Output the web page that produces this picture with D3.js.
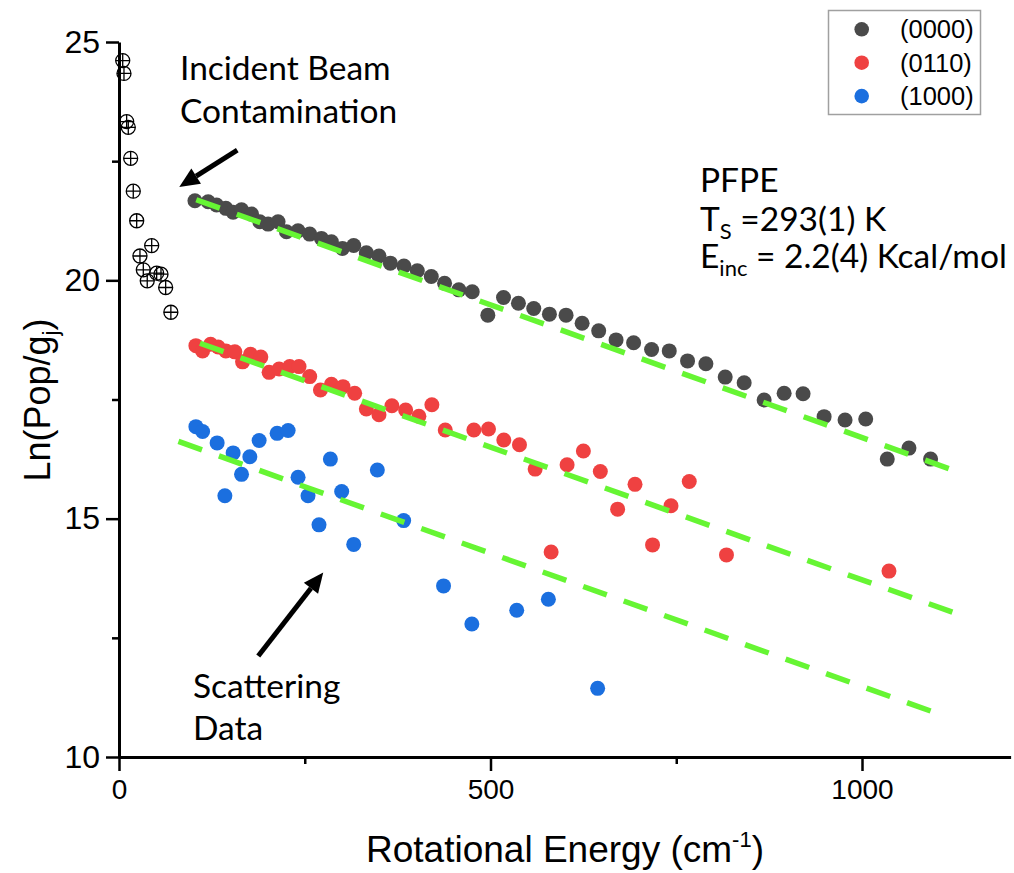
<!DOCTYPE html>
<html><head><meta charset="utf-8">
<script src="https://cdn.jsdelivr.net/npm/d3@7"></script>
<style>
html,body{margin:0;padding:0;background:#fff;}
svg{display:block;}
</style>
</head><body>
<svg id="chart" width="1014" height="873"></svg>
<script>
// ---------- data ----------
const contamE  = [5, 6.7, 10.3, 12.5, 15.7, 19.2, 23.8, 28.2, 32.7, 38, 44, 50.7, 56.5, 62.8, 69.8];
const contamLn = [24.61, 24.34, 23.33, 23.21, 22.56, 21.87, 21.25, 20.51, 20.22, 19.99, 20.73, 20.15, 20.13, 19.85, 19.33];

const e0000  = [102.2,120,131.3,143.8,153.6,164.9,178.4,189.5,200.7,214.1,225.4,241,256.7,272.4,285.9,300.7,315.9,332.9,349.9,365.2,383.5,401.5,420.3,438.2,457.4,475.4,496.4,517.5,537.6,558.2,579.3,601.7,623.3,645.6,669,692.6,716.8,740.6,765.2,789.9,815.9,841.4,868.3,895.2,920.7,949,977.2,1005,1034,1063.2,1092.3];
const ln0000 = [21.67,21.65,21.58,21.51,21.43,21.48,21.39,21.23,21.18,21.23,21.02,21.04,20.97,20.88,20.81,20.67,20.73,20.58,20.51,20.36,20.30,20.20,20.08,19.94,19.80,19.76,19.27,19.64,19.52,19.41,19.29,19.27,19.10,18.94,18.75,18.69,18.55,18.52,18.31,18.25,17.97,17.85,17.49,17.63,17.62,17.14,17.07,17.09,16.25,16.48,16.25];

const e0110  = [103.5,112.5,123.3,133.5,143.8,155.9,166.3,177,190.9,202,215.5,229.8,242.3,256.7,271.1,285.9,301.5,317.2,332.9,349.9,367.3,385.8,403.6,421.1,439.1,477.6,497.3,517.9,539,560.1,581.6,603.1,625,647.8,671.1,694.5,718.1,742.9,767.5,817.6,1036.3];
const ln0110 = [18.63,18.52,18.66,18.60,18.52,18.50,18.29,18.45,18.39,18.07,18.14,18.19,18.19,17.98,17.70,17.82,17.77,17.63,17.30,17.18,17.37,17.28,17.15,17.39,16.86,16.86,16.88,16.65,16.55,16.04,14.30,16.13,16.42,15.99,15.20,15.72,14.45,15.27,15.78,14.24,13.90];

const e1000  = [103.5,112.5,132.1,142.5,153.6,164.9,176.1,188.6,212.8,227.6,241,254.4,269.2,284.5,299.7,315.9,347.7,383.1,436.8,474.9,535.3,577.9,644.2];
const ln1000 = [16.93,16.83,16.59,15.48,16.38,15.93,16.30,16.64,16.79,16.85,15.87,15.48,14.87,16.25,15.57,14.46,16.02,14.96,13.59,12.79,13.08,13.31,11.44];

// linear fits (end points of dashed lines)
const fitE0000 = [104, 1117], fitLn0000 = [21.69, 16.05];
const fitE0110 = [109, 1125], fitLn0110 = [18.68, 13.02];
const fitE1000 = [80, 1095],  fitLn1000 = [16.62, 10.95];

const seriesNames  = ["(0000)", "(0110)", "(1000)"];
const seriesColors = ["#4a4a4a", "#ef4141", "#1b6fdf"];
const fitColor = "#66f533";

const xMajorTicks = [0, 500, 1000];
const xMinorTicks = [250, 750];
const yMajorTicks = [10, 15, 20, 25];
const yMinorTicks = [12.5, 17.5, 22.5];

// ---------- scales ----------
const svg = d3.select("#chart");
const x = d3.scaleLinear().domain([0, 1200]).range([119, 1010.6]);
const y = d3.scaleLinear().domain([10, 25]).range([757, 42]);

const zip = (a, b) => a.map((v, i) => [v, b[i]]);

// ---------- scatter ----------
const sets = [zip(e0000, ln0000), zip(e0110, ln0110), zip(e1000, ln1000)];
sets.forEach((pts, i) => {
  svg.append("g").selectAll("circle").data(pts).join("circle")
    .attr("cx", d => x(d[0])).attr("cy", d => y(d[1])).attr("r", 7.5)
    .attr("fill", seriesColors[i]);
});

// ---------- fit lines ----------
const line = d3.line().x(d => x(d[0])).y(d => y(d[1]));
[zip(fitE0000, fitLn0000), zip(fitE0110, fitLn0110), zip(fitE1000, fitLn1000)].forEach(f => {
  svg.append("path").attr("d", line(f)).attr("fill", "none")
    .attr("stroke", fitColor).attr("stroke-width", 5.5).attr("stroke-dasharray", "25,18");
});

// ---------- axes ----------
const axisFont = "'Liberation Sans', Arial, sans-serif";
const gx = svg.append("g").attr("transform", `translate(0,${y(10)})`)
  .call(d3.axisBottom(x).tickValues(xMajorTicks).tickSize(14).tickSizeOuter(0).tickPadding(8).tickFormat(d3.format("d")));
svg.append("g").attr("transform", `translate(0,${y(10)})`)
  .call(d3.axisBottom(x).tickValues(xMinorTicks).tickSize(7).tickFormat(""))
  .select(".domain").remove();
const gy = svg.append("g").attr("transform", `translate(${x(0)},0)`)
  .call(d3.axisLeft(y).tickValues(yMajorTicks).tickSize(13).tickSizeOuter(0).tickPadding(6).tickFormat(d3.format("d")));
svg.append("g").attr("transform", `translate(${x(0)},0)`)
  .call(d3.axisLeft(y).tickValues(yMinorTicks).tickSize(7).tickFormat(""))
  .select(".domain").remove();

svg.selectAll(".domain").attr("stroke", "#000").attr("stroke-width", 3);
svg.selectAll(".tick line").attr("stroke", "#000").attr("stroke-width", 2.5);
gx.selectAll(".tick text").attr("font-family", axisFont).attr("font-size", 28).attr("fill", "#000");
gy.selectAll(".tick text").attr("font-family", axisFont).attr("font-size", 32).attr("fill", "#000");

// contamination markers (drawn over axis)
const cg = svg.append("g").selectAll("g").data(zip(contamE, contamLn)).join("g")
  .attr("transform", d => `translate(${x(d[0])},${y(d[1])})`);
cg.append("circle").attr("r", 7).attr("fill", "none").attr("stroke", "#000").attr("stroke-width", 1.3);
cg.append("path").attr("d", "M-7,0H7M0,-7V7").attr("stroke", "#000").attr("stroke-width", 1.3);

// axis titles
svg.append("text").attr("x", 565).attr("y", 862).attr("text-anchor", "middle")
  .attr("font-family", axisFont).attr("font-size", 37).attr("fill", "#000")
  .html('Rotational Energy (cm<tspan dy="-15" font-size="22">-1</tspan><tspan dy="15">)</tspan>');
svg.append("text").attr("transform", "translate(50,400) rotate(-90)").attr("text-anchor", "middle")
  .attr("font-family", axisFont).attr("font-size", 36).attr("fill", "#000")
  .html('Ln(Pop/g<tspan dy="8" font-size="22">j</tspan><tspan dy="-8">)</tspan>');

// ---------- legend ----------
const lg = svg.append("g");
lg.append("rect").attr("x", 828.5).attr("y", 10.5).attr("width", 152).attr("height", 104)
  .attr("fill", "#fff").attr("stroke", "#a0a0a0").attr("stroke-width", 1.5);
seriesNames.forEach((n, i) => {
  const cy = 29.3 + i * 33.4;
  lg.append("circle").attr("cx", 861.7).attr("cy", cy).attr("r", 7.3).attr("fill", seriesColors[i]);
  lg.append("text").attr("x", 900).attr("y", cy + 9).attr("font-family", axisFont)
    .attr("font-size", 25.5).attr("fill", "#000").text(n);
});

// ---------- annotations ----------
const annFont = "Lato, 'Open Sans', sans-serif";
function txt(xp, yp, s, size) {
  return svg.append("text").attr("x", xp).attr("y", yp).attr("font-family", annFont)
    .attr("font-size", size).attr("fill", "#000").html(s);
}
txt(180, 80, "Incident Beam", 33.5);
txt(180, 122.7, "Contamination", 33.5);
txt(193, 697.7, "Scattering", 33.5);
txt(193, 740, "Data", 33.5);
txt(700, 191.7, "PFPE", 33.5);
txt(700, 230.7, 'T<tspan dy="8" font-size="22">S</tspan><tspan dy="-8"> =293(1) K</tspan>', 33.5);
txt(700, 268.3, 'E<tspan dy="8" font-size="22">inc</tspan><tspan dy="-8"> = 2.2(4) Kcal/mol</tspan>', 33.5);

function arrow(e0, l0, e1, l1) {
  const x0 = x(e0), y0 = y(l0), x1 = x(e1), y1 = y(l1);
  const ang = Math.atan2(y1 - y0, x1 - x0);
  const hl = 20, hw = 9;
  const bx = x1 - hl * Math.cos(ang), by = y1 - hl * Math.sin(ang);
  svg.append("line").attr("x1", x0).attr("y1", y0).attr("x2", bx).attr("y2", by)
    .attr("stroke", "#000").attr("stroke-width", 5);
  const px = -Math.sin(ang) * hw, py = Math.cos(ang) * hw;
  svg.append("path").attr("d", `M${x1},${y1}L${bx + px},${by + py}L${bx - px},${by - py}Z`).attr("fill", "#000");
}
arrow(159.2, 22.73, 81.1, 21.96);
arrow(187.4, 12.12, 274.9, 13.87);
</script>
</body></html>
